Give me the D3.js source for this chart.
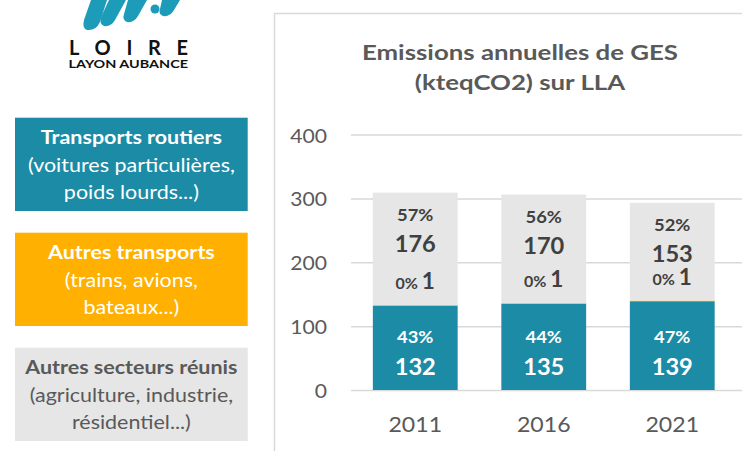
<!DOCTYPE html>
<html>
<head>
<meta charset="utf-8">
<script src="https://cdn.jsdelivr.net/npm/d3@7"></script>
<style>
  html, body { margin: 0; padding: 0; background: #fff; }
  svg { display: block; font-family: Lato, "Open Sans", sans-serif; }
</style>
</head>
<body>
<svg id="chart" width="742" height="451"></svg>
<script>
// ---- Data ----
const years = ["2011", "2016", "2021"];
const routiers = [132, 135, 139];
const autresTransports = [1, 1, 1];
const autresSecteurs = [176, 170, 153];
const pctRoutiers = ["43%", "44%", "47%"];
const pctAutresTransports = ["0%", "0%", "0%"];
const pctAutresSecteurs = ["57%", "56%", "52%"];
const yTicks = [0, 100, 200, 300, 400];
const titleLines = ["Emissions annuelles de GES", "(kteqCO2) sur LLA"];
const legendItems = [
  { title: "Transports routiers", lines: ["(voitures particulières,", "poids lourds...)"] },
  { title: "Autres transports", lines: ["(trains, avions,", "bateaux...)"] },
  { title: "Autres secteurs réunis", lines: ["(agriculture, industrie,", "résidentiel...)"] }
];

// ---- Styles ----
const TEAL = "#1b8ba6", ORANGE = "#ffb000", GRAY = "#e6e6e6";
const TXT = "#595959", DARK = "#404040", GRID = "#d9d9d9";
const legendFill = [TEAL, ORANGE, GRAY];
const legendText = ["#ffffff", "#ffffff", TXT];

const svg = d3.select("#chart");

// horizontal widening of glyphs to match the reference's wider face
function stretch(sel, k) {
  sel.each(function() {
    const w = this.getComputedTextLength();
    d3.select(this).attr("textLength", w * k).attr("lengthAdjust", "spacingAndGlyphs");
  });
}

// ---- Logo ----
const logo = svg.append("g");
const strokes = [
  "M91,0 L107,0 L100,22 Q96,31 87,30 Q82,28 84,20 Z",
  "M109,0 L126,0 L115,20 Q111,27 104,26 Q99,24 101,17 Z",
  "M128,0 L147,0 L138,16 Q134,23 127,22 Q122,20 124,14 Z",
  "M162,0 L180,0 L174,10 Q170,17 163,16 Q158,14 160,9 Z"
];
logo.selectAll("path").data(strokes).join("path").attr("d", d => d).attr("fill", "#1d9cba");
logo.append("circle").attr("cx", 155).attr("cy", 9).attr("r", 4.5).attr("fill", "#1d9cba");
logo.append("text").attr("x", 69).attr("y", 54.5).attr("textLength", 119).attr("lengthAdjust", "spacing")
  .attr("font-size", 20).attr("font-weight", 700).attr("fill", "#111").text("LOIRE");
logo.append("text").attr("x", 68.5).attr("y", 67.5).attr("textLength", 119.5).attr("lengthAdjust", "spacingAndGlyphs")
  .attr("font-size", 10.5).attr("font-weight", 700).attr("fill", "#111").text("LAYON AUBANCE");

// ---- Legend boxes ----
const legendTop = [117.7, 232.7, 347.7];
const lg = svg.append("g").selectAll("g").data(legendItems).join("g")
  .attr("transform", (d, i) => `translate(15,${legendTop[i]})`);
lg.append("rect").attr("width", 232.7).attr("height", 93.3).attr("fill", (d, i) => legendFill[i]);
lg.append("text").attr("class", "lt").attr("x", 116.4).attr("y", 26.5).attr("text-anchor", "middle")
  .attr("font-size", 19).attr("font-weight", 700).attr("fill", (d, i) => legendText[i]).text(d => d.title);
lg.each(function(d, i) {
  d3.select(this).selectAll("text.sub").data(d.lines).join("text").attr("class", "sub lt")
    .attr("x", 116.4).attr("y", (l, j) => 54 + j * 27).attr("text-anchor", "middle")
    .attr("font-size", 19).attr("fill", legendText[i]).text(l => l);
});
stretch(svg.selectAll("text.lt"), 1.13);

// ---- Chart frame ----
svg.append("rect").attr("x", 274.5).attr("y", 13.5).attr("width", 600).attr("height", 600)
  .attr("fill", "none").attr("stroke", GRID).attr("stroke-width", 1.5);

// ---- Title ----
const tt = svg.append("g").selectAll("text").data(titleLines).join("text")
  .attr("x", 520).attr("y", (d, i) => 59.5 + i * 30.5).attr("text-anchor", "middle")
  .attr("font-size", 21.5).attr("font-weight", 700).attr("fill", TXT).text(d => d);
stretch(tt, 1.2);

// ---- Scales ----
const y = d3.scaleLinear().domain([0, 400]).range([390, 134.5]);
const x = d3.scaleBand().domain(years).range([351, 736.5]).paddingInner(0.34).paddingOuter(0.17);

// ---- Gridlines + y labels ----
const yAxis = d3.axisLeft(y).tickValues(yTicks).tickSize(-(742 - 351)).tickPadding(24);
const ga = svg.append("g").attr("transform", "translate(351,0)").call(yAxis);
ga.select(".domain").remove();
ga.selectAll(".tick line").attr("stroke", GRID).attr("stroke-width", 1.5);
ga.selectAll(".tick text").attr("font-size", 19).attr("fill", TXT).attr("font-family", "Lato, sans-serif")
  .attr("dy", "0.4em");
stretch(ga.selectAll(".tick text"), 1.11);

// ---- Stacks ----
const rows = years.map((yr, i) => ({ year: yr, routiers: routiers[i], autresTransports: autresTransports[i], autresSecteurs: autresSecteurs[i], i }));
const keys = ["routiers", "autresTransports", "autresSecteurs"];
const stack = d3.stack().keys(keys)(rows);
const colors = { routiers: TEAL, autresTransports: ORANGE, autresSecteurs: GRAY };

svg.append("g").selectAll("g").data(stack).join("g").attr("fill", s => colors[s.key])
  .selectAll("rect").data(s => s).join("rect")
  .attr("x", d => x(d.data.year)).attr("width", x.bandwidth())
  .attr("y", d => y(d[1])).attr("height", d => y(d[0]) - y(d[1]));

// ---- X labels ----
const xAxis = d3.axisBottom(x).tickSize(0).tickPadding(0);
const gx = svg.append("g").attr("transform", "translate(0,390)").call(xAxis);
gx.select(".domain").remove();
gx.selectAll(".tick text").attr("font-size", 21).attr("fill", TXT).attr("font-family", "Lato, sans-serif")
  .attr("dy", null).attr("y", 42.3);
stretch(gx.selectAll(".tick text"), 1.1);

// ---- Data labels ----
const lab = svg.append("g").attr("text-anchor", "middle").attr("font-weight", 700);
const cx = d => x(d.year) + x.bandwidth() / 2;
const topOf = d => y(d.routiers + d.autresTransports + d.autresSecteurs);

// autres secteurs
lab.selectAll("text.ps").data(rows).join("text").attr("class", "ps dl")
  .attr("x", cx).attr("y", d => topOf(d) + 28.5).attr("font-size", 17.5).attr("fill", DARK)
  .text(d => pctAutresSecteurs[d.i]);
lab.selectAll("text.vs").data(rows).join("text").attr("class", "vs dl")
  .attr("x", cx).attr("y", d => topOf(d) + 59.5).attr("font-size", 22.5).attr("fill", DARK)
  .text(d => d.autresSecteurs);

// autres transports
const ot = lab.selectAll("text.vt").data(rows).join("text").attr("class", "vt")
  .attr("x", cx).attr("y", d => y(d.routiers + d.autresTransports) - 16).attr("fill", DARK);
ot.append("tspan").attr("font-size", 16).text(d => pctAutresTransports[d.i]);
ot.append("tspan").attr("font-size", 16).text("\u00a0");
ot.append("tspan").attr("font-size", 22.5).text(d => d.autresTransports);

// routiers
lab.selectAll("text.pr").data(rows).join("text").attr("class", "pr dl")
  .attr("x", cx).attr("y", y(0) - 46.7).attr("font-size", 17.5).attr("fill", "#fff")
  .text(d => pctRoutiers[d.i]);
lab.selectAll("text.vr").data(rows).join("text").attr("class", "vr dl")
  .attr("x", cx).attr("y", y(0) - 15).attr("font-size", 22.5).attr("fill", "#fff")
  .text(d => d.routiers);
stretch(lab.selectAll("text.dl"), 1.05);
</script>
</body>
</html>
